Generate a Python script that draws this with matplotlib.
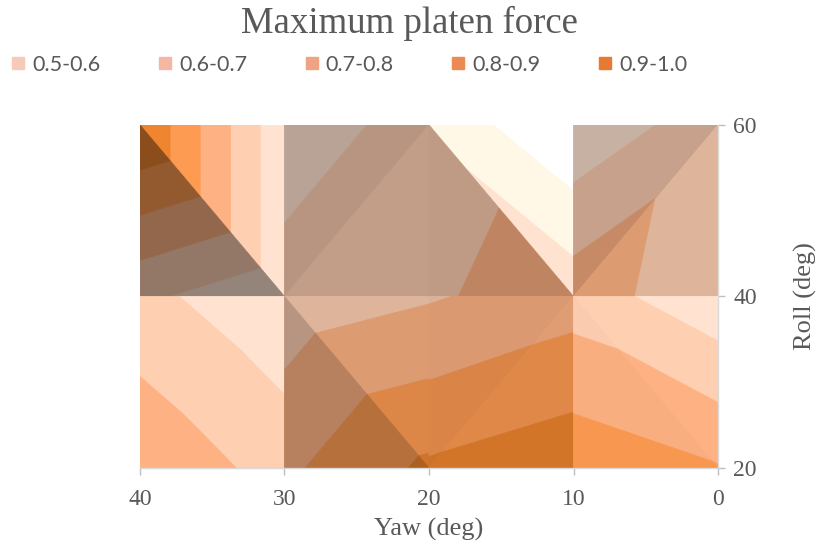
import numpy as np
import matplotlib
matplotlib.use("Agg")
import matplotlib.pyplot as plt
import matplotlib.tri as mtri
from matplotlib.colors import to_rgb
from matplotlib.lines import Line2D

# ---------------- data ----------------
yaw = [40, 30, 20, 10, 0]          # x nodes (deg)
roll = [20, 40, 60]                # y nodes (deg)

band_levels = [0.4, 0.5, 0.6, 0.7, 0.8, 0.9, 1.01]
band_colors = ['#fff8e6', '#ffe3d0', '#ffcfb2', '#feb283', '#fd9b52', '#ef852f']

legend_labels = ['0.5-0.6', '0.6-0.7', '0.7-0.8', '0.8-0.9', '0.9-1.0']
legend_colors = ['#f7c9b8', '#f4b8a2', '#f0a382', '#ec8a55', '#e57a30']

# surface cells: column (yaw interval), row (roll interval), split diagonal
cell_col = [0, 1, 2, 3, 0, 1, 2, 3]
cell_row = [1, 1, 1, 1, 0, 0, 0, 0]
cell_diag = ['TLBR', 'BLTR', 'TLBR', 'BLTR', 'BLTR', 'TLBR', 'BLTR', 'TLBR']

nan = np.nan
# force values at cell corners (TL, TR, BL, BR) as seen in each triangle facet
upper_tri_z = [
    [1.00, 0.52, nan, 0.52],
    [0.52, 0.66, 0.66, nan],
    [0.48, 0.30, nan, 0.56],
    [0.521, 0.66, 0.755, nan],
    [0.63, 0.52, 0.78, nan],
    [0.64, 0.69, nan, 0.92],
    [0.69, 0.755, 0.915, nan],
    [0.653, 0.528, nan, 0.806],
]
lower_tri_z = [
    [1.00, nan, 0.62, 0.52],
    [nan, 0.66, 0.66, 0.68],
    [0.615, nan, 0.677, 0.79],
    [nan, 0.653, 0.76, 0.617],
    [nan, 0.52, 0.78, 0.66],
    [0.64, nan, 0.78, 0.92],
    [nan, 0.755, 0.915, 0.97],
    [0.653, nan, 0.868, 0.806],
]
# facet lighting (brightness factor)
upper_shade = [1.00, 0.72, 1.00, 0.78, 1.00, 0.87, 0.86, 1.00]
lower_shade = [0.58, 0.76, 0.75, 0.87, 1.00, 0.72, 0.88, 0.98]

# ---------------- figure ----------------
serif = 'Liberation Serif'
grey_txt = '#595959'
fig = plt.figure(figsize=(8.18, 5.5), dpi=100)
ax = fig.add_axes([140 / 818, 1 - 468 / 550, 578 / 818, 343 / 550])

corner_order = {'TL': 0, 'TR': 1, 'BL': 2, 'BR': 3}
tri_upper = {'TLBR': ['TL', 'TR', 'BR'], 'BLTR': ['TL', 'TR', 'BL']}
tri_lower = {'TLBR': ['TL', 'BL', 'BR'], 'BLTR': ['BL', 'TR', 'BR']}


def corner_xy(col, row, name):
    cx = yaw[col] if name[1] == 'L' else yaw[col + 1]
    cy = roll[row + 1] if name[0] == 'T' else roll[row]
    return cx, cy


def draw_facet(col, row, names, zvals, shade):
    pts = [corner_xy(col, row, n) for n in names]
    z = [zvals[corner_order[n]] for n in names]
    tri = mtri.Triangulation([p[0] for p in pts], [p[1] for p in pts], [[0, 1, 2]])
    cols = [tuple(np.clip(np.array(to_rgb(c)) * shade, 0, 1)) for c in band_colors]
    cs = ax.tricontourf(tri, z, levels=band_levels, colors=cols, antialiased=True)
    cs.set_edgecolor('face')
    cs.set_linewidth(0.6)


for k in range(len(cell_col)):
    d = cell_diag[k]
    draw_facet(cell_col[k], cell_row[k], tri_upper[d], upper_tri_z[k], upper_shade[k])
    draw_facet(cell_col[k], cell_row[k], tri_lower[d], lower_tri_z[k], lower_shade[k])

ax.set_xlim(40, 0)
ax.set_ylim(20, 60)
ax.set_xticks(yaw)
ax.set_yticks(roll)
ax.yaxis.tick_right()
ax.yaxis.set_label_position('right')
for s in ['top', 'left']:
    ax.spines[s].set_visible(False)
for s in ['bottom', 'right']:
    ax.spines[s].set_color('#d9d9d9')
    ax.spines[s].set_linewidth(1.0)
ax.tick_params(axis='both', colors='#bfbfbf', length=5, width=1.0,
               labelcolor=grey_txt, labelsize=17)
ax.tick_params(axis='x', pad=10)
ax.tick_params(axis='y', pad=6)
for lab in ax.get_xticklabels() + ax.get_yticklabels():
    lab.set_fontfamily(serif)
ax.set_xlabel('Yaw (deg)', fontfamily=serif, fontsize=19, color=grey_txt, labelpad=6)
ax.set_ylabel('Roll (deg)', fontfamily=serif, fontsize=19, color=grey_txt, labelpad=27,
              rotation=90)

fig.text(0.5, 1 - 33 / 550, 'Maximum platen force', ha='center', va='baseline',
         fontfamily=serif, fontsize=26.5, color=grey_txt)

handles = [Line2D([], [], linestyle='none', marker='s', markersize=8,
                  markerfacecolor=c, markeredgecolor=c) for c in legend_colors]
fig.legend(handles, legend_labels, ncol=5, loc='center left',
           bbox_to_anchor=(0.0, 1 - 65 / 550), frameon=False,
           prop={'family': 'Lato', 'size': 15.5}, labelcolor=grey_txt,
           handlelength=0.7, handletextpad=0.3, columnspacing=2.65,
           borderaxespad=0.1)

fig.savefig('out.png', dpi=100)
